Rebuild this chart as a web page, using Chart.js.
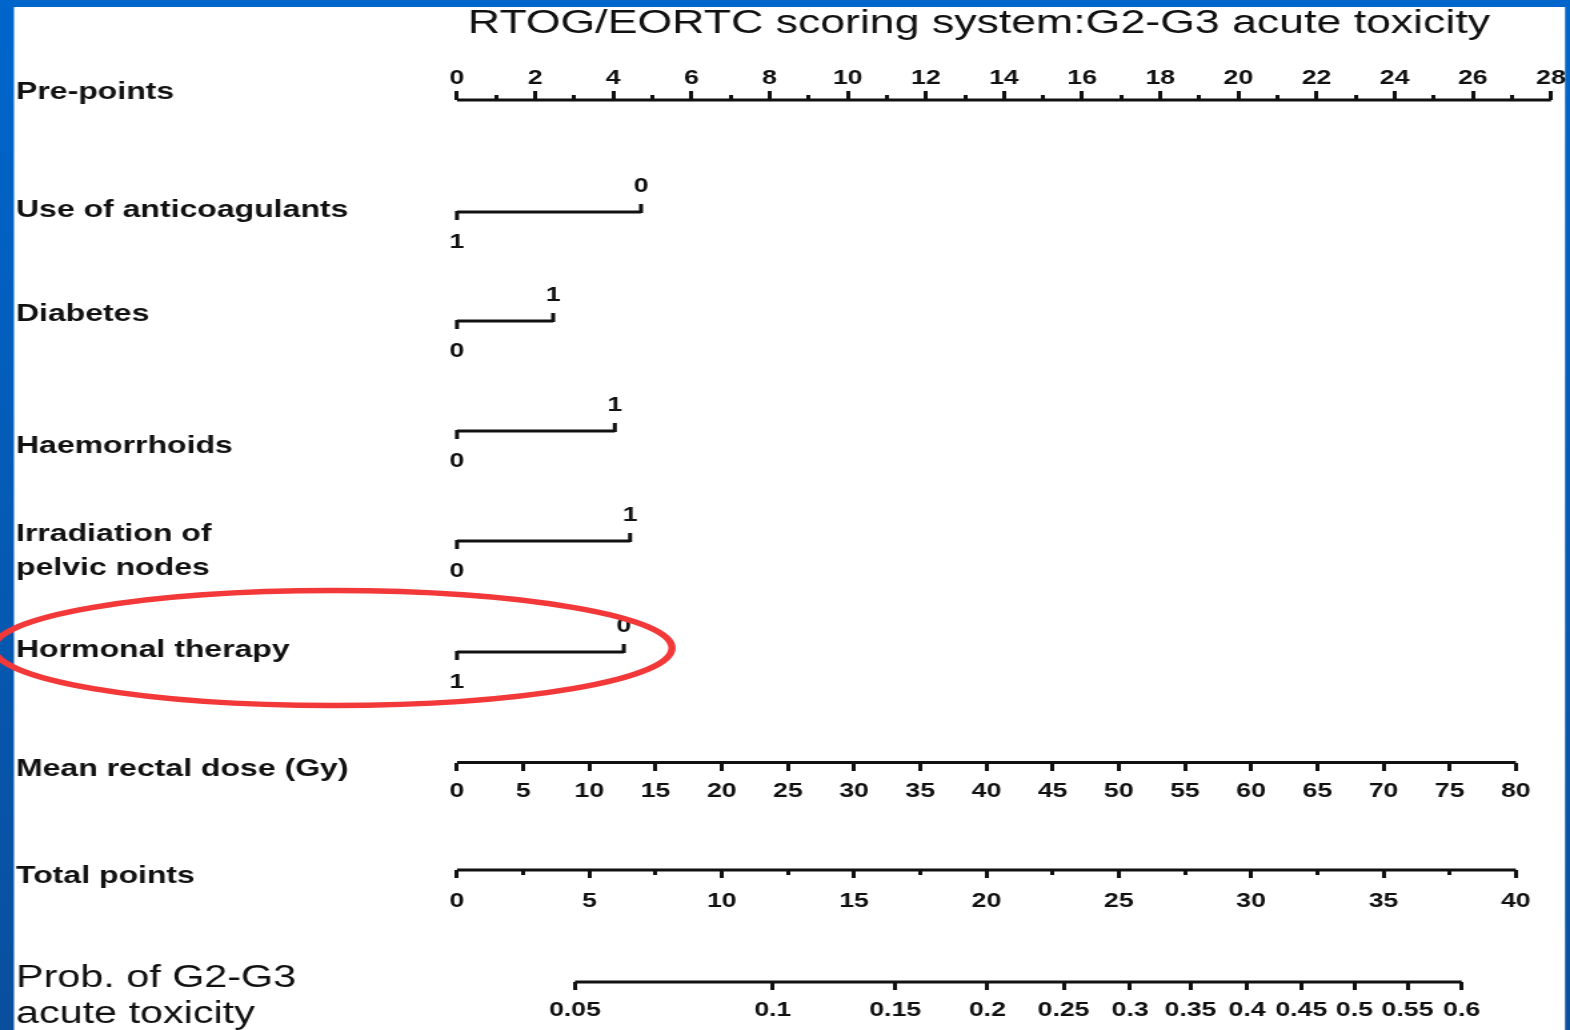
<!DOCTYPE html>
<html>
<head>
<meta charset="utf-8">
<script src="https://cdn.jsdelivr.net/npm/chart.js@4.4.1/dist/chart.umd.min.js"></script>
<style>
  html, body { margin: 0; padding: 0; background: #ffffff; overflow: hidden; width: 1570px; height: 1030px; }
  #c { position: absolute; left: 0; top: 0; transform-origin: 0 0; }
</style>
</head>
<body>
<canvas id="c" width="1178" height="1030"></canvas>
<script>
// ---------------- DATA ----------------
const titleText = 'RTOG/EORTC scoring system:G2-G3 acute toxicity';
const rowLabels = [
  ['Pre-points'],
  ['Use of anticoagulants'],
  ['Diabetes'],
  ['Haemorrhoids'],
  ['Irradiation of', 'pelvic nodes'],
  ['Hormonal therapy'],
  ['Mean rectal dose (Gy)'],
  ['Total points'],
  ['Prob. of G2-G3', 'acute toxicity']
];
const prePointTicks = [0, 2, 4, 6, 8, 10, 12, 14, 16, 18, 20, 22, 24, 26, 28];
const prePointMinorTicks = [1, 3, 5, 7, 9, 11, 13, 15, 17, 19, 21, 23, 25, 27];

const binaryVars = ['Use of anticoagulants', 'Diabetes', 'Haemorrhoids', 'Irradiation of pelvic nodes', 'Hormonal therapy'];
const levelNames = ['0', '1'];
const pointsLevel0 = [4.71, 0, 0, 0, 4.27];
const pointsLevel1 = [0, 2.46, 4.04, 4.43, 0];

const doseTicks = [0, 5, 10, 15, 20, 25, 30, 35, 40, 45, 50, 55, 60, 65, 70, 75, 80];
const dosePrePointsAtMax = 27.1;     // pre-points reached at 80 Gy

const totalTicks = [0, 5, 10, 15, 20, 25, 30, 35, 40];
const totalMinorTicks = [2.5, 7.5, 12.5, 17.5, 22.5, 27.5, 32.5, 37.5];
const totalPrePointsAtMax = 27.1;    // pre-points width of 40 total points

const probTicks = [0.05, 0.1, 0.15, 0.2, 0.25, 0.3, 0.35, 0.4, 0.45, 0.5, 0.55, 0.6];
const probIntercept = -3.39;         // logit(p) = intercept + slope * total points
const probSlope = 0.1;

// ---------------- LAYOUT ----------------
const W = 1178, H = 1030, SX = 1570 / W;
document.getElementById('c').style.transform = 'scaleX(' + SX + ')';
const L = {
  areaLeft: 457 / SX,
  areaRight: 1551 / SX,
  preY: 100,
  varY: [212, 321, 431, 541, 652],
  doseY: 762.5,
  totalY: 870,
  probY: 982,
  labelX: 16 / SX,
  labelY: [[92], [210], [314], [446], [534, 568], [650], [769], [876], [978, 1014]],
  titleX: 979 / SX,
  titleY: 24
};
const INK = '#111111';
const tickFont = { family: 'Liberation Sans', weight: 'bold', size: 20, lineHeight: 1.2 };

const logit = p => Math.log(p / (1 - p));
const probToTotal = p => (logit(p) - probIntercept) / probSlope;
const fixedTicks = arr => (scale) => { scale.ticks = arr.map(v => ({ value: v })); };

function xAxis(rowY, max, tickArr, tickLength, padding, showLabels, extra) {
  return Object.assign({
    type: 'linear',
    axis: 'x',
    position: { y: rowY },
    min: 0,
    max: max,
    afterBuildTicks: fixedTicks(tickArr),
    border: { display: false },
    grid: { drawOnChartArea: false, drawTicks: true, tickLength: tickLength, tickWidth: 3, tickColor: INK },
    ticks: {
      display: showLabels, autoSkip: false, maxRotation: 0, minRotation: 0,
      padding: padding, font: tickFont, color: INK
    }
  }, extra || {});
}

const doseMax = doseTicks[doseTicks.length - 1] * 28 / dosePrePointsAtMax;
const totalMax = totalTicks[totalTicks.length - 1] * 28 / totalPrePointsAtMax;

const lineStyle = { borderColor: INK, borderWidth: 3, pointRadius: 0, showLine: true, fill: false, tension: 0, yAxisID: 'y', clip: false };

const datasets = [
  Object.assign({}, lineStyle, { xAxisID: 'pts', data: [{ x: prePointTicks[0], y: L.preY }, { x: prePointTicks[prePointTicks.length - 1], y: L.preY }] }),
  ...binaryVars.map((v, i) => Object.assign({}, lineStyle, {
    label: v, xAxisID: 'pts',
    data: [{ x: pointsLevel0[i], y: L.varY[i] }, { x: pointsLevel1[i], y: L.varY[i] }]
  })),
  Object.assign({}, lineStyle, { xAxisID: 'dose', data: [{ x: doseTicks[0], y: L.doseY }, { x: doseTicks[doseTicks.length - 1], y: L.doseY }] }),
  Object.assign({}, lineStyle, { xAxisID: 'total', data: [{ x: totalTicks[0], y: L.totalY }, { x: totalTicks[totalTicks.length - 1], y: L.totalY }] }),
  Object.assign({}, lineStyle, { xAxisID: 'total', data: [{ x: probToTotal(probTicks[0]), y: L.probY }, { x: probToTotal(probTicks[probTicks.length - 1]), y: L.probY }] })
];

// ---------------- PLUGINS ----------------
const framePlugin = {
  id: 'frame',
  beforeDraw(chart) {
    const ctx = chart.ctx;
    ctx.save();
    ctx.fillStyle = '#ffffff';
    ctx.fillRect(0, 0, W, H);
    const g = ctx.createLinearGradient(0, 0, 0, H);
    g.addColorStop(0, '#0066cc');
    g.addColorStop(1, '#0a4f9e');
    ctx.fillStyle = g;
    ctx.fillRect(0, 0, 14 / SX, H);
    ctx.fillRect(1565 / SX, 0, W - 1565 / SX, H);
    ctx.fillStyle = '#0066cc';
    ctx.fillRect(0, 0, W, 7);
    ctx.restore();
  }
};

const textPlugin = {
  id: 'texts',
  afterDraw(chart) {
    const ctx = chart.ctx;
    const pts = chart.scales.pts;
    ctx.save();
    // title
    ctx.fillStyle = INK;
    ctx.textAlign = 'center';
    ctx.textBaseline = 'middle';
    ctx.font = '33.5px "Liberation Sans", Arial, sans-serif';
    ctx.fillText(titleText, L.titleX, L.titleY);
    // row labels
    ctx.textAlign = 'left';
    rowLabels.forEach((lines, r) => {
      ctx.font = (r === rowLabels.length - 1) ? '31px "Liberation Sans", Arial, sans-serif'
                                               : 'bold 24px "Liberation Sans", Arial, sans-serif';
      lines.forEach((t, k) => ctx.fillText(t, L.labelX, L.labelY[r][k]));
    });
    // binary variable end ticks and level labels
    ctx.font = 'bold 20px "Liberation Sans", Arial, sans-serif';
    ctx.textAlign = 'center';
    ctx.strokeStyle = INK;
    ctx.lineWidth = 3;
    binaryVars.forEach((v, i) => {
      const y = L.varY[i];
      const vals = [pointsLevel0[i], pointsLevel1[i]];
      const hiIdx = vals[0] > vals[1] ? 0 : 1;
      const loIdx = 1 - hiIdx;
      const xHi = pts.getPixelForValue(vals[hiIdx]);
      const xLo = pts.getPixelForValue(vals[loIdx]);
      ctx.beginPath();
      ctx.moveTo(xHi, y + 1); ctx.lineTo(xHi, y - 8);
      ctx.moveTo(xLo, y - 1); ctx.lineTo(xLo, y + 8);
      ctx.stroke();
      ctx.fillText(levelNames[hiIdx], xHi, y - 26);
      ctx.fillText(levelNames[loIdx], xLo, y + 30);
    });
    ctx.restore();
  }
};

const ellipsePlugin = {
  id: 'highlight',
  afterDraw(chart) {
    const ctx = chart.ctx;
    ctx.save();
    ctx.strokeStyle = '#f23838';
    ctx.lineWidth = 5.5;
    ctx.beginPath();
    ctx.ellipse(333 / SX, 648, 339 / SX, 57.5, 0, 0, Math.PI * 2);
    ctx.stroke();
    ctx.restore();
  }
};

// ---------------- CHART ----------------
new Chart(document.getElementById('c'), {
  type: 'scatter',
  data: { datasets },
  options: {
    responsive: false,
    maintainAspectRatio: false,
    animation: false,
    devicePixelRatio: 1,
    events: [],
    layout: { padding: { left: L.areaLeft, right: W - L.areaRight, top: 0, bottom: 0 } },
    plugins: { legend: { display: false }, tooltip: { enabled: false }, title: { display: false } },
    scales: {
      y: { type: 'linear', min: 0, max: H, reverse: true, display: false },
      pts: xAxis(L.preY, 28, prePointTicks, -9, -25, true),
      ptsMinor: xAxis(L.preY, 28, prePointMinorTicks, -5, 0, false),
      dose: xAxis(L.doseY, doseMax, doseTicks, 8, 8.5, true),
      total: xAxis(L.totalY, totalMax, totalTicks, 8, 11, true),
      totalMinor: xAxis(L.totalY, totalMax, totalMinorTicks, 5, 0, false),
      prob: xAxis(L.probY, totalMax, probTicks.map(probToTotal), 8, 8, true, {
        ticks: {
          display: true, autoSkip: false, maxRotation: 0, minRotation: 0,
          padding: 8, font: tickFont, color: INK,
          callback: (value, index) => String(probTicks[index])
        }
      })
    }
  },
  plugins: [framePlugin, textPlugin, ellipsePlugin]
});
</script>
</body>
</html>
